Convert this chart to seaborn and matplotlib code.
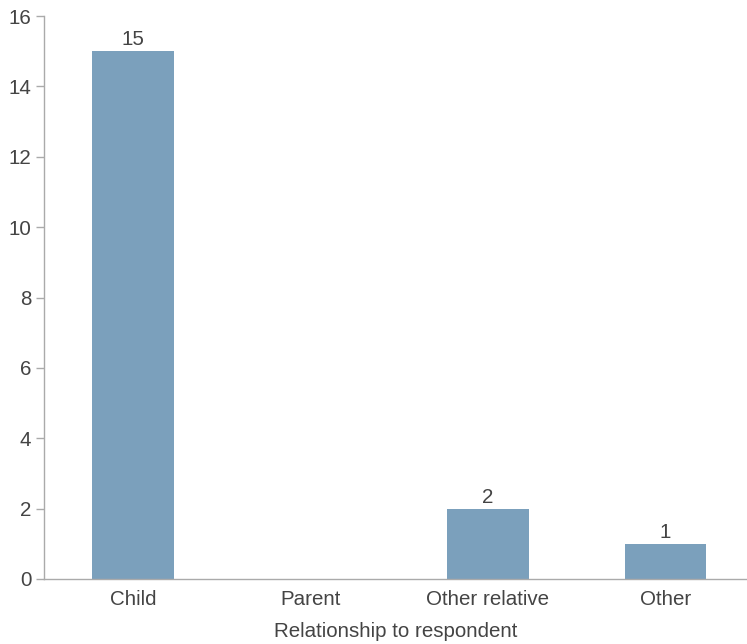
import matplotlib
matplotlib.use("Agg")
import matplotlib.pyplot as plt
import seaborn as sns
import pandas as pd

categories = ["Child", "Parent", "Other relative", "Other"]
counts = [15, 0, 2, 1]
y_ticks = [0, 2, 4, 6, 8, 10, 12, 14, 16]

sns.set_style("white")
plt.rcParams["font.family"] = ["Liberation Sans", "DejaVu Sans"]

text_color = "#444444"
spine_color = "#AAAAAA"
bar_color = "#7BA0BC"
font_size = 14.8

df = pd.DataFrame({"relationship": categories, "count": counts})

fig = plt.figure(figsize=(7.47, 6.44), dpi=100)
ax = fig.add_axes([44 / 747, 1 - 579 / 644, 1 - 44 / 747, (579 - 16) / 644])

sns.barplot(data=df, x="relationship", y="count", color=bar_color,
            saturation=1, width=0.46, ax=ax, order=categories,
            edgecolor="none", linewidth=0)

for i, v in enumerate(counts):
    if v > 0:
        ax.text(i, v + 0.06, str(v), ha="center", va="bottom",
                fontsize=font_size, color=text_color)

ax.set_xlim(-0.5, 3.46)
ax.set_ylim(0, 16)
ax.set_yticks(y_ticks)
ax.set_ylabel("")
ax.set_xlabel("Relationship to respondent", fontsize=font_size,
              color=text_color, labelpad=9)

ax.tick_params(axis="y", left=True, direction="out", length=6, width=1,
               color=spine_color, labelsize=font_size, labelcolor=text_color, pad=3)
ax.tick_params(axis="x", bottom=False, length=0, labelsize=font_size,
               labelcolor=text_color, pad=8)

for side in ["top", "right"]:
    ax.spines[side].set_visible(False)
for side in ["left", "bottom"]:
    ax.spines[side].set_color(spine_color)
    ax.spines[side].set_linewidth(1)

fig.savefig("out.png", dpi=100)
